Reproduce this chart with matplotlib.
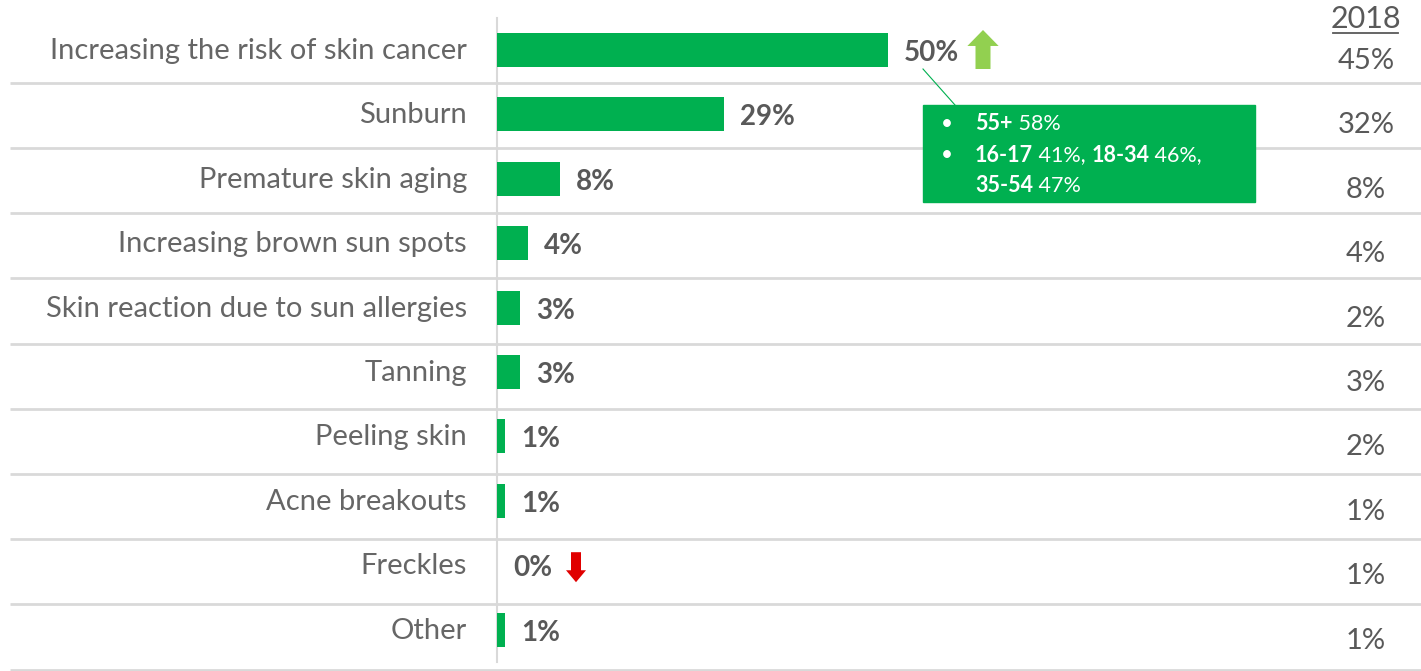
import matplotlib.pyplot as plt
from matplotlib.patches import Rectangle

plt.rcParams['font.family'] = ['Lato', 'DejaVu Sans']

# ---------------- data ----------------
categories = ['Increasing the risk of skin cancer', 'Sunburn', 'Premature skin aging',
              'Increasing brown sun spots', 'Skin reaction due to sun allergies', 'Tanning',
              'Peeling skin', 'Acne breakouts', 'Freckles', 'Other']
values = [50, 29, 8, 4, 3, 3, 1, 1, 0, 1]
values_2018 = [45, 32, 8, 4, 2, 3, 2, 1, 1, 1]
box_lines = [[('55+', True), (' 58%', False)],
             [('16-17', True), (' 41%, ', False), ('18-34', True), (' 46%,', False)],
             [('35-54', True), (' 47%', False)]]

GREEN = '#00B050'
GRID = '#D9D9D9'
GREY = '#595959'

W, H = 1421, 671
X0 = 497        # pixel of 0%
PX_PCT = 7.82   # pixels per 1%
Y0 = 50         # pixel centre of first row
PX_ROW = 64.4   # pixels per row

fig = plt.figure(figsize=(W / 100, H / 100), dpi=100)
ax = fig.add_axes([0, 0, 1, 1])
ax.set_xlim(-X0 / PX_PCT, (W - X0) / PX_PCT)
ax.set_ylim((H - Y0) / PX_ROW, -Y0 / PX_ROW)
ax.axis('off')


def dx(px):
    return px / PX_PCT


def dy(px):
    return px / PX_ROW


rows = list(range(len(categories)))

# separators and axis line
for i in rows:
    yy = i + 0.51 + i * 0.0125
    ax.plot([dx(10 - X0), dx(W - X0)], [yy, yy], color=GRID, lw=2, solid_capstyle='butt')
ax.plot([0, 0], [dy(18 - Y0), dy(662 - Y0)], color=GRID, lw=1.5)

ax.barh(rows, values, height=0.53, color=GREEN, zorder=3)

for i, (cat, v, v18) in enumerate(zip(categories, values, values_2018)):
    ax.text(dx(-30), i + dy(1), cat, ha='right', va='center', fontsize=21, color='#666666')
    ax.text(v + dx(16), i + dy(3), f'{v}%', ha='left', va='center', fontsize=20,
            fontweight='bold', color=GREY)
    ax.text(dx(1366 - X0), i + dy(11), f'{v18}%', ha='center', va='center',
            fontsize=21, color=GREY)

# 2018 header (underlined)
ax.text(dx(1366 - X0), dy(19 - Y0), '2018', ha='center', va='center', fontsize=22, color=GREY)
ax.plot([dx(1333 - X0), dx(1398 - X0)], [dy(33 - Y0)] * 2, color=GREY, lw=1.3)

# up / down arrows
ax.annotate('', xy=(values[0] + dx(95), dy(-20)), xytext=(values[0] + dx(95), dy(19)),
            arrowprops=dict(arrowstyle='simple,head_length=11.5,head_width=22.5,tail_width=10.8',
                            mutation_scale=1, shrinkA=0, shrinkB=0, color='#92D050', lw=0))
ax.annotate('', xy=(values[8] + dx(79), 8 + dy(17)), xytext=(values[8] + dx(79), 8 - dy(13)),
            arrowprops=dict(arrowstyle='simple,head_length=8.6,head_width=14.4,tail_width=7.2',
                            mutation_scale=1, shrinkA=0, shrinkB=0, color='#E00000', lw=0))

# callout box
bx0 = values[0] + dx(35)
ax.plot([values[0] + dx(35), values[0] + dx(67)], [dy(19), dy(55)], color=GREEN, lw=0.8)
ax.add_patch(Rectangle((bx0, dy(55)), dx(332), dy(97), color=GREEN, zorder=4))
for k, parts in enumerate(box_lines):
    yy = dy(74 + k * 31)
    if k < 2:
        ax.text(bx0 + dx(18), yy, '•', ha='left', va='center', fontsize=15,
                color='white', zorder=5)
    prev = ax.text(bx0 + dx(52), yy, parts[0][0], ha='left', va='center', fontsize=15.5,
                   fontweight='bold' if parts[0][1] else 'normal', color='white', zorder=5)
    for txt, bold in parts[1:]:
        prev = ax.annotate(txt, xy=(1, 0), xycoords=prev, ha='left', va='bottom',
                           fontsize=15.5, fontweight='bold' if bold else 'normal',
                           color='white', zorder=5)

fig.savefig('out.png', dpi=100)
